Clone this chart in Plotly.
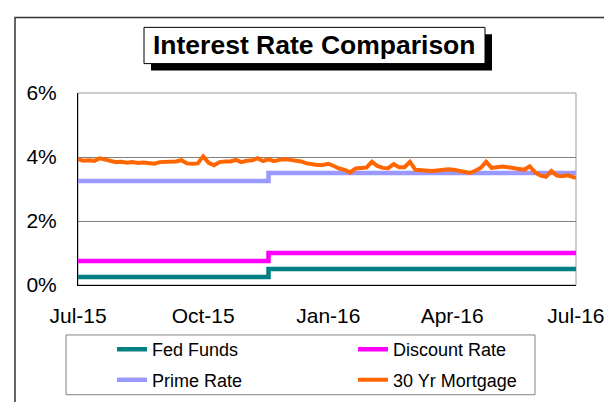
import pandas as pd
import plotly.graph_objects as go

# ---------------- data ----------------
tick_dates = ["2015-07-01", "2015-10-01", "2016-01-01", "2016-04-01", "2016-07-01"]
tick_labels = ["Jul-15", "Oct-15", "Jan-16", "Apr-16", "Jul-16"]
y_ticks = [0, 2, 4, 6]
y_tick_labels = ["0%", "2%", "4%", "6%"]

policy_dates = ["2015-07-01", "2015-11-18", "2016-07-01"]
fed_funds = [0.25, 0.50, 0.50]
discount_rate = [0.75, 1.00, 1.00]
prime_rate = [3.25, 3.50, 3.50]

mortgage_dates = [d.strftime("%Y-%m-%d") for d in pd.date_range("2015-07-01", "2016-06-29", freq="4D")] + ["2016-07-01"]
mortgage_30yr = [
    3.93, 3.88, 3.90, 3.88, 3.96, 3.91, 3.86, 3.84, 3.85, 3.82,
    3.84, 3.81, 3.83, 3.82, 3.79, 3.84, 3.85, 3.83, 3.86, 3.90,
    3.80, 3.79, 3.80, 4.02, 3.82, 3.74, 3.84, 3.86, 3.86, 3.91,
    3.84, 3.88, 3.90, 3.96, 3.87, 3.93, 3.87, 3.91, 3.93, 3.91,
    3.89, 3.86, 3.80, 3.76, 3.75, 3.75, 3.79, 3.72, 3.64, 3.60,
    3.52, 3.64, 3.66, 3.67, 3.85, 3.72, 3.66, 3.65, 3.78, 3.68,
    3.68, 3.85, 3.60, 3.58, 3.57, 3.56, 3.58, 3.60, 3.62, 3.60,
    3.56, 3.55, 3.50, 3.57, 3.66, 3.85, 3.66, 3.68, 3.70, 3.68,
    3.66, 3.62, 3.60, 3.71, 3.52, 3.42, 3.38, 3.56, 3.42, 3.40,
    3.43, 3.37, 3.35,
]

# ---------------- layout helpers (pixel -> paper) ----------------
W, H = 612, 402
L, R, T, B = 70, 568, 85, 281


def px(x):
    return (x - L) / (R - L)


def py(y):
    return (B - y) / (B - T)


FONT = "Arial, 'Liberation Sans', sans-serif"

fig = go.Figure()
fig.add_trace(go.Scatter(x=policy_dates, y=fed_funds, name="Fed Funds", mode="lines",
                         line=dict(color="#008080", width=4.5, shape="hv"), legend="legend"))
fig.add_trace(go.Scatter(x=policy_dates, y=discount_rate, name="Discount Rate", mode="lines",
                         line=dict(color="#FF00FF", width=4.5, shape="hv"), legend="legend"))
fig.add_trace(go.Scatter(x=policy_dates, y=prime_rate, name="Prime Rate", mode="lines",
                         line=dict(color="#9999FF", width=4.5, shape="hv"), legend="legend2"))
fig.add_trace(go.Scatter(x=mortgage_dates, y=mortgage_30yr, name="30 Yr Mortgage", mode="lines",
                         line=dict(color="#FF6600", width=4), legend="legend2"))

shapes = [
    # outer chart frame (extends past the visible window)
    dict(type="rect", xref="paper", yref="paper", x0=px(7), x1=px(700), y0=py(500), y1=py(8),
         line=dict(color="#333333", width=1.5), fillcolor="rgba(0,0,0,0)", layer="below"),
    # plot-area border
    dict(type="rect", xref="paper", yref="paper", x0=0, x1=1, y0=0, y1=1,
         line=dict(color="#9a9a9a", width=1), fillcolor="rgba(0,0,0,0)", layer="below"),
    # title shadow and box
    dict(type="rect", xref="paper", yref="paper", x0=px(143), x1=px(484), y0=py(62), y1=py(25),
         line=dict(color="black", width=0), fillcolor="black", layer="above"),
    dict(type="rect", xref="paper", yref="paper", x0=px(136), x1=px(477), y0=py(55), y1=py(18),
         line=dict(color="black", width=1), fillcolor="white", layer="above"),
    # legend box
    dict(type="rect", xref="paper", yref="paper", x0=px(58), x1=px(527), y0=py(393), y1=py(332),
         line=dict(color="#808080", width=1), fillcolor="rgba(0,0,0,0)", layer="above"),
]

leg_common = dict(orientation="h", xanchor="left", yanchor="middle", bgcolor="rgba(0,0,0,0)",
                  borderwidth=0, font=dict(family=FONT, size=18, color="black"),
                  entrywidth=196, entrywidthmode="pixels", itemwidth=30)

fig.update_layout(
    width=W, height=H,
    margin=dict(l=L, r=W - R, t=T, b=H - B, pad=0),
    paper_bgcolor="white", plot_bgcolor="white",
    font=dict(family=FONT, color="black"),
    showlegend=True,
    legend=dict(x=px(104), y=py(347), **leg_common),
    legend2=dict(x=px(104), y=py(378), **leg_common),
    shapes=shapes,
    annotations=[dict(text="<b>Interest Rate Comparison</b>", xref="paper", yref="paper",
                      x=px(306.5), y=py(36.5), xanchor="center", yanchor="middle",
                      showarrow=False, font=dict(family=FONT, size=26.5, color="black"))],
    xaxis=dict(type="date", range=["2015-06-30 23:00", "2016-07-01 01:00"],
               tickmode="array", tickvals=tick_dates, ticktext=tick_labels,
               showgrid=False, zeroline=False, showline=True, linecolor="black", linewidth=1,
               ticks="", ticklabelstandoff=12, tickfont=dict(family=FONT, size=21, color="black")),
    yaxis=dict(range=[0, 6], tickmode="array", tickvals=y_ticks, ticktext=y_tick_labels,
               showgrid=True, gridcolor="#808080", gridwidth=1, zeroline=False,
               showline=True, linecolor="black", linewidth=1,
               ticks="", ticklabelstandoff=16, tickfont=dict(family=FONT, size=21, color="black")),
)

fig.write_html("out.html")
